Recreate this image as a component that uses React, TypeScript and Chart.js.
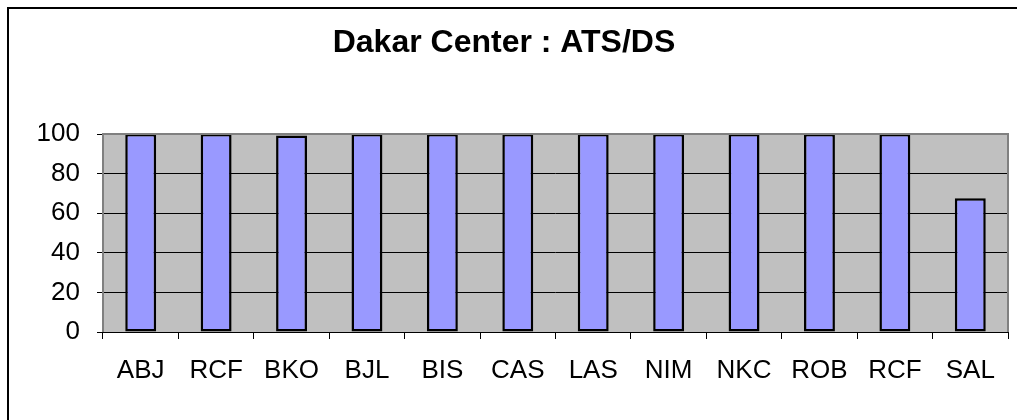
import React, { useEffect, useRef } from "react";
import { Chart, registerables } from "chart.js";

Chart.register(...registerables);

const categories = ["ABJ", "RCF", "BKO", "BJL", "BIS", "CAS", "LAS", "NIM", "NKC", "ROB", "RCF", "SAL"];
const values = [100, 100, 99.2, 100, 100, 100, 100, 100, 100, 100, 100, 67.6];
const yTicks = [0, 20, 40, 60, 80, 100];
const titleText = "Dakar Center : ATS/DS";

const FONT = "'Liberation Sans', Arial, sans-serif";

const plotBg = {
  id: "plotBg",
  beforeDraw(chart: any) {
    const { ctx, chartArea: a } = chart;
    ctx.save();
    ctx.fillStyle = "#C0C0C0";
    ctx.fillRect(a.left, a.top, a.right - a.left, a.bottom - a.top);
    ctx.restore();
  },
  afterDatasetsDraw(chart: any) {
    const { ctx, chartArea: a } = chart;
    ctx.save();
    ctx.strokeStyle = "#808080";
    ctx.lineWidth = 2;
    ctx.beginPath();
    ctx.moveTo(a.left, a.bottom);
    ctx.lineTo(a.left, a.top);
    ctx.lineTo(a.right, a.top);
    ctx.lineTo(a.right, a.bottom);
    ctx.stroke();
    ctx.strokeStyle = "#000";
    ctx.lineWidth = 1;
    ctx.beginPath();
    ctx.moveTo(a.left, a.bottom + 0.5);
    ctx.lineTo(a.right, a.bottom + 0.5);
    ctx.stroke();
    ctx.restore();
  },
};

export default function App() {
  const ref = useRef<HTMLCanvasElement>(null);
  useEffect(() => {
    if (!ref.current) return;
    const chart = new Chart(ref.current, {
      type: "bar",
      data: {
        labels: categories,
        datasets: [
          {
            data: values,
            backgroundColor: "#9999FF",
            borderColor: "#000000",
            borderWidth: 2.5,
            borderSkipped: false,
            barPercentage: 0.41,
            categoryPercentage: 1,
          },
        ],
      },
      options: {
        animation: false,
        responsive: false,
        maintainAspectRatio: false,
        layout: { padding: { left: 0, right: 10, top: 0, bottom: 0 } },
        plugins: {
          legend: { display: false },
          tooltip: { enabled: false },
          title: {
            display: true,
            text: titleText,
            color: "#000",
            font: { family: FONT, size: 32, weight: "bold" },
            padding: { top: 24, bottom: 71.6 },
          },
        },
        scales: {
          x: {
            offset: true,
            grid: {
              display: true,
              offset: true,
              drawOnChartArea: false,
              drawTicks: true,
              tickLength: 7,
              color: "#000",
            },
            border: { display: false },
            ticks: {
              color: "#000",
              font: { family: FONT, size: 26 },
              padding: 16,
              maxRotation: 0,
              autoSkip: false,
            },
            afterFit(scale: any) {
              scale.height = 88;
            },
          },
          y: {
            min: 0,
            max: 100,
            afterBuildTicks(scale: any) {
              scale.ticks = yTicks.map((v) => ({ value: v }));
            },
            grid: {
              color: (c: any) => (c.tick && (c.tick.value === 100 || c.tick.value === 0) ? "rgba(0,0,0,0)" : "#000"),
              tickColor: "#000",
              tickLength: 6,
              lineWidth: 1,
            },
            border: { display: false },
            ticks: {
              color: "#000",
              font: { family: FONT, size: 26 },
              padding: 17,
            },
            afterFit(scale: any) {
              scale.width = 103;
            },
          },
        },
      },
      plugins: [plotBg],
    } as any);
    return () => chart.destroy();
  }, []);

  return (
    <div style={{ position: "absolute", left: 0, top: 0, width: 1018, height: 420, background: "#fff", overflow: "hidden" }}>
      <div
        style={{
          position: "absolute",
          left: 7,
          top: 7,
          width: 1008,
          height: 413,
          borderLeft: "2px solid #000",
          borderTop: "2px solid #000",
        }}
      />
      <canvas ref={ref} width={1018} height={420} style={{ position: "absolute", left: 0, top: 0 }} />
    </div>
  );
}
